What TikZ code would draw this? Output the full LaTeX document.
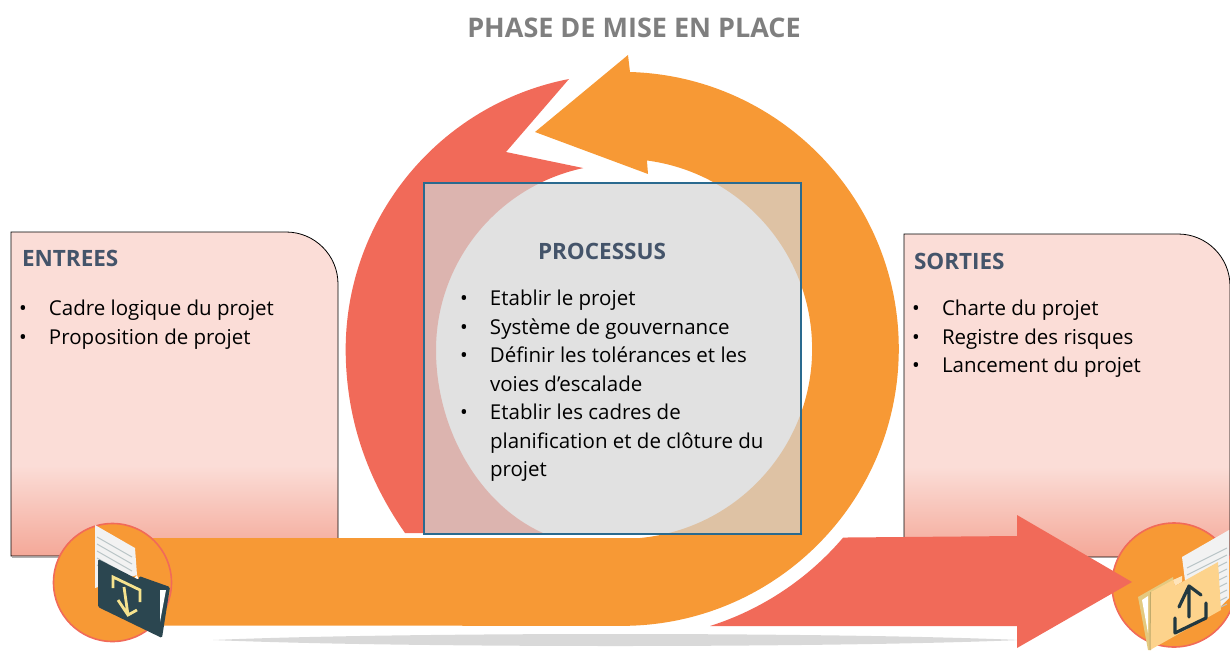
\documentclass[tikz,border=0pt]{standalone}
\usepackage{fontspec}
\setmainfont{Open Sans}
\definecolor{coral}{HTML}{F16A59}
\definecolor{amber}{HTML}{F79935}
\definecolor{slate}{HTML}{44546A}
\definecolor{titlegrey}{HTML}{7F7F7F}
\definecolor{framegrey}{HTML}{D4D4D4}
\definecolor{frameblue}{HTML}{2A6A8F}
\definecolor{boxpale}{HTML}{FBDDD7}
\definecolor{boxdeep}{HTML}{F4A898}
\definecolor{folderdark}{HTML}{2B4650}
\definecolor{foldersand}{HTML}{FDD38C}
\definecolor{folderback}{HTML}{E4C97F}
\definecolor{foldermark}{HTML}{F6E38E}
\definecolor{paperline}{HTML}{B9C4C6}
\pgfdeclareverticalshading{boxfade}{100bp}{color(0bp)=(boxdeep); color(25bp)=(boxdeep); color(39bp)=(boxpale); color(75bp)=(boxpale); color(100bp)=(boxpale)}
\begin{document}
\begin{tikzpicture}[x=1pt, y=-1pt,
                    every node/.style = {inner sep=0pt, outer sep=0pt},
                    headtext/.style = {font=\fontsize{22.5}{28}\selectfont\bfseries, text=slate, anchor=base west},
                    listtext/.style = {font=\fontsize{20.5}{28.5}\selectfont, anchor=north west, align=left},
                    sidebox/.style = {draw=black, line width=.8pt, shading=boxfade},
                    badge/.style = {fill=amber, draw=coral, line width=1.6pt},
                    sheet/.style = {fill=white!95!black},
                    rule/.style = {draw=paperline, line width=1pt}]

    \useasboundingbox (0,0) rectangle (1230,650);

    \draw[gray!60, line width=1pt] (12,557.5) -- (339,557.5);
    \path[sidebox] (11,232) -- (286,232) arc[start angle=90, end angle=0, radius=52pt] -- (338,556) -- (11,556) -- cycle;
    \path[sidebox] (904,234) -- (1178,234) arc[start angle=90, end angle=0, radius=52pt] -- (1230,557) -- (904,557) -- cycle;

    \fill[black!15!white] (213,640) .. controls (400,632) and (830,632) .. (1020,640) .. controls (830,648) and (400,648) .. cycle;

    \fill[coral] (569,79) arc[start angle=101, end angle=180, radius=276pt]
        .. controls (346,420) and (368,480) .. (405,533) -- (543,533)
        .. controls (480,505) and (436,430) .. (436,350)
        arc[start angle=180, end angle=102, radius=186pt] -- (506,152) -- cycle;
    \fill[amber] (630,72) arc[start angle=88.3, end angle=-90, radius=277pt] -- (150,625.5) -- (150,538) -- (640,538)
        arc[start angle=-84.6, end angle=82.5, radius=190pt] -- (648,174) -- (535,132) -- (628,55) -- cycle;

    \path[fill=framegrey, fill opacity=.7, draw=frameblue, line width=1.2pt] (424,183) rectangle (801,534);

    \node[font=\fontsize{27}{32}\selectfont\bfseries, text=titlegrey] (phase) at (634,28) {PHASE DE MISE EN PLACE};

    \node[headtext] (entrees) at (22,266) {ENTREES};
    \node[listtext] (entreeslist) at (19,296) {\begin{tabular}{@{}p{30pt}@{}l@{}}
        \textbullet & Cadre logique du projet \\
        \textbullet & Proposition de projet \\
    \end{tabular}};

    \node[headtext] (processus) at (538,259) {PROCESSUS};
    \node[listtext] (processuslist) at (460,286) {\begin{tabular}{@{}p{30pt}@{}l@{}}
        \textbullet & Etablir le projet \\
        \textbullet & Système de gouvernance \\
        \textbullet & Définir les tolérances et les \\
                    & voies d’escalade \\
        \textbullet & Etablir les cadres de \\
                    & planification et de clôture du \\
                    & projet \\
    \end{tabular}};

    \node[headtext] (sorties) at (914,269) {SORTIES};
    \node[listtext] (sortieslist) at (912,296) {\begin{tabular}{@{}p{30pt}@{}l@{}}
        \textbullet & Charte du projet \\
        \textbullet & Registre des risques \\
        \textbullet & Lancement du projet \\
    \end{tabular}};

    % left badge
    \path[badge] (112.5,582.5) circle[radius=59pt];
    \fill[sheet] (95,525) -- (135,548) -- (137,575) -- (95,588) -- cycle;
    \foreach \i in {0,1,2,3,4} {
        \draw[rule] (97,537+\i*7) -- (132,557+\i*7);
    }
    \fill[white] (137,575) -- (140,583) -- (130,583) -- cycle;
    \fill[folderdark, rounded corners=1.5pt] (98,559) -- (139,580) -- (139,576) -- (170,587) -- (162,638) -- (98,607) -- cycle;
    \fill[white] (160,590) -- (166,590) -- (160,622) -- cycle;
    \draw[foldermark, line width=2.8pt, line join=miter] (113,588) -- (113,577) -- (140,590) -- (140,602);
    \draw[foldermark, line width=2.8pt, line join=miter] (124,587) -- (128,615) (118,600) -- (128,615) -- (137,610);

    % right badge
    \path[badge] (1174,585) circle[radius=62pt];
    \fill[coral] (710,626) arc[start angle=-72.4, end angle=-40.4, radius=290pt] -- (1017,536) -- (1017,515) -- (1132,582) -- (1017,648) -- (1017,626) -- cycle;
    \fill[sheet] (1182,557) -- (1229,530) -- (1229,598) -- (1220,607) -- (1190,620) -- cycle;
    \foreach \i in {0,1,2,3,4,5,6,7,8} {
        \draw[rule] (1187,\i*7+568) -- (1227,\i*7+548);
    }
    \fill[folderback] (1138,597) -- (1173,577) -- (1175,590) -- (1151,650) -- (1148,650) -- cycle;
    \fill[white] (1142,600) -- (1148,596) -- (1148,633) -- cycle;
    \fill[foldersand!60!white] (1173,580) -- (1182,576) -- (1182,582) -- (1175,586) -- cycle;
    \fill[foldersand] (1151,592) -- (1173,580) -- (1175,586) -- (1218,562) -- (1221,610) -- (1150,650) -- cycle;
    \draw[folderback!85!black, line width=1pt] (1150.5,592) -- (1150,650);
    \draw[folderdark!80!black, line width=3.2pt, line cap=round, line join=round] (1189,587) -- (1189,617) (1179,607) -- (1189,586) -- (1201,595);
    \draw[folderdark!80!black, line width=3.2pt, line cap=round, line join=round] (1175,618) -- (1175,633) -- (1206,618) -- (1206,603);

\end{tikzpicture}
\end{document}
